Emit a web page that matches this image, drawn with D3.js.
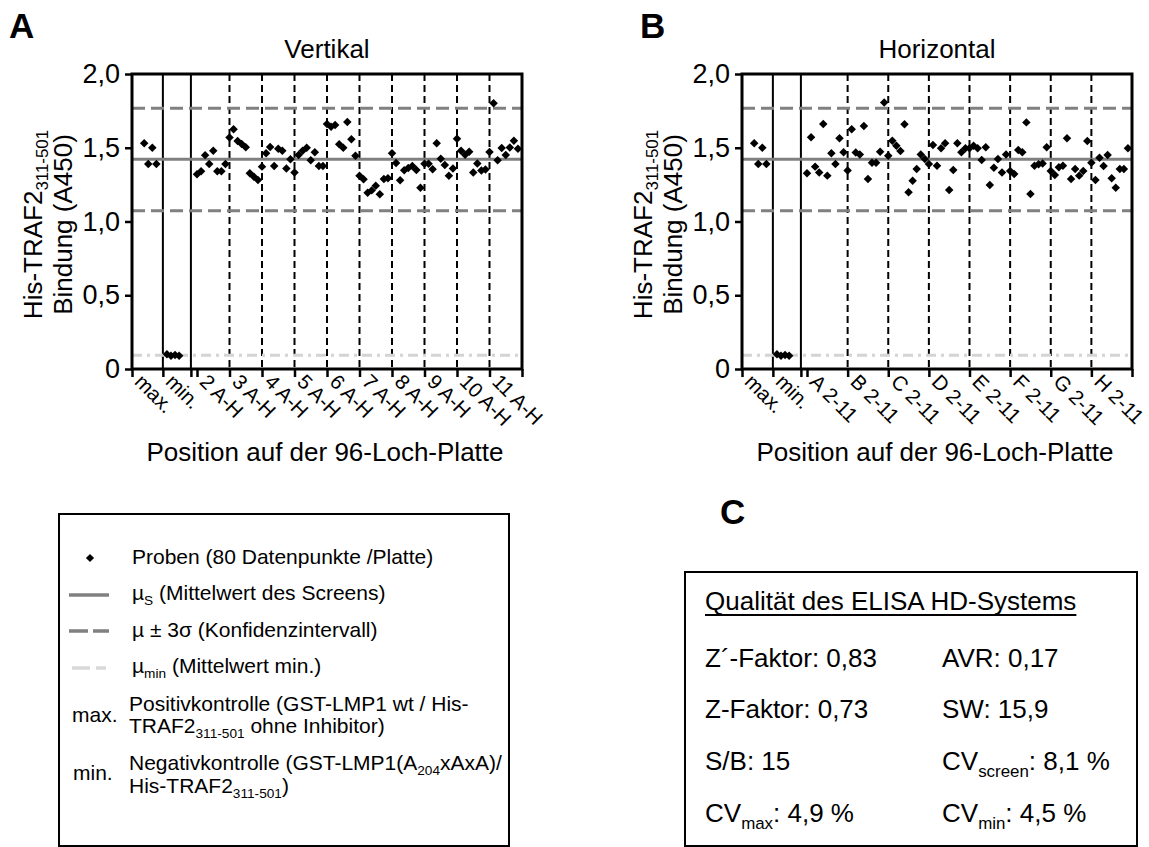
<!DOCTYPE html>
<html>
<head>
<meta charset="utf-8">
<script src="https://cdn.jsdelivr.net/npm/d3@7"></script>
<style>
  body { margin: 0; background: #fff; }
  svg { display: block; }
</style>
</head>
<body>
<svg id="fig" width="1149" height="847"></svg>
<script>
// ---- values ----
var yTicks = [0, 0.5, 1.0, 1.5, 2.0];
var yTickLabels = ["0", "0,5", "1,0", "1,5", "2,0"];

// reference lines (A450)
var muScreen = 1.422;
var muUpper = 1.767;   // mu + 3 sigma
var muLower = 1.073;   // mu - 3 sigma
var muMin = 0.093;

// controls, positions on the 0..96 well axis
var ctrlSeparators = [7.6, 14.5];
var maxSlots = [3, 4, 5, 6];
var maxValues = [1.53, 1.39, 1.50, 1.39];
var minSlots = [8.6, 9.6, 10.6, 11.6];
var minValues = [0.100, 0.090, 0.095, 0.090];
var sampleStart = 16;

// A: vertical read-out (columns 2..11, wells A..H)
var vertLabels = ["max.", "min.", "2 A-H", "3 A-H", "4 A-H", "5 A-H", "6 A-H",
                  "7 A-H", "8 A-H", "9 A-H", "10 A-H", "11 A-H"];
var vertLabelSlots = [0, 7.6, 16, 24, 32, 40, 48, 56, 64, 72, 80, 88];
var vertValues = [
  1.32, 1.34, 1.45, 1.39, 1.48, 1.34, 1.34, 1.39,
  1.57, 1.625, 1.546, 1.525, 1.503, 1.327, 1.304, 1.281,
  1.372, 1.462, 1.505, 1.376, 1.493, 1.48, 1.36, 1.422,
  1.332, 1.451, 1.479, 1.50, 1.415, 1.469, 1.376, 1.376,
  1.661, 1.643, 1.654, 1.523, 1.50, 1.674, 1.558, 1.446,
  1.31, 1.286, 1.195, 1.211, 1.243, 1.185, 1.288, 1.293,
  1.462, 1.397, 1.279, 1.347, 1.363, 1.377, 1.349, 1.229,
  1.392, 1.392, 1.355, 1.53, 1.425, 1.383, 1.31, 1.36,
  1.561, 1.479, 1.453, 1.473, 1.332, 1.394, 1.345, 1.352,
  1.471, 1.801, 1.415, 1.498, 1.451, 1.501, 1.547, 1.494
];

// B: horizontal read-out (rows A..H, columns 2..11)
var horLabels = ["max.", "min.", "A 2-11", "B 2-11", "C 2-11", "D 2-11",
                 "E 2-11", "F 2-11", "G 2-11", "H 2-11"];
var horLabelSlots = [0, 7.6, 16, 26, 36, 46, 56, 66, 76, 86];
var horValues = [
  1.327, 1.571, 1.372, 1.333, 1.661, 1.311, 1.462, 1.39, 1.564, 1.469,
  1.345, 1.625, 1.467, 1.455, 1.647, 1.288, 1.399, 1.399, 1.473, 1.806,
  1.446, 1.548, 1.514, 1.478, 1.659, 1.198, 1.277, 1.356, 1.455, 1.424,
  1.39, 1.519, 1.378, 1.496, 1.53, 1.214, 1.349, 1.53, 1.469, 1.496,
  1.496, 1.514, 1.496, 1.417, 1.503, 1.247, 1.365, 1.424, 1.333, 1.455,
  1.342, 1.322, 1.485, 1.469, 1.672, 1.186, 1.378, 1.388, 1.394, 1.503,
  1.342, 1.315, 1.367, 1.378, 1.564, 1.288, 1.356, 1.311, 1.342, 1.546,
  1.399, 1.281, 1.433, 1.376, 1.451, 1.293, 1.229, 1.356, 1.356, 1.496
];

// quality parameters, panel C
var qualityTitle = "Qualität des ELISA HD-Systems";
var qualityLeft = [
  [["Z´-Faktor: 0,83"]],
  [["Z-Faktor: 0,73"]],
  [["S/B: 15"]],
  [["CV"], ["max", "sub"], [": 4,9 %"]]
];
var qualityRight = [
  [["AVR: 0,17"]],
  [["SW: 15,9"]],
  [["CV"], ["screen", "sub"], [": 8,1 %"]],
  [["CV"], ["min", "sub"], [": 4,5 %"]]
];

// ---- drawing ----
var FONT = '"Liberation Sans", Arial, Helvetica, sans-serif';
var plotTop = 74, plotBottom = 369;
var svg = d3.select("#fig");
svg.append("rect").attr("width", 1149).attr("height", 847).attr("fill", "#fff");

// text with subscripts: parts = [[string, "sub"?], ...]
function rich(sel, parts, fs, k) {
  k = k || 0.28;
  var shift = 0;
  parts.forEach(function(p) {
    var t = sel.append("tspan").text(p[0]);
    if (p[1] == "sub") {
      t.attr("font-size", fs * 0.65).attr("dy", fs * k);
      shift = fs * k;
    } else if (shift) {
      t.attr("dy", -shift);
      shift = 0;
    }
  });
  return sel;
}

function drawPanel(p) {
  var g = svg.append("g");
  var x = d3.scaleLinear().domain([0, 96]).range([p.left, p.right]);
  var y = d3.scaleLinear().domain([0, 2]).range([plotBottom, plotTop]);

  // group separators
  g.selectAll("line.ctrl").data(ctrlSeparators).enter().append("line")
    .attr("x1", function(d) { return x(d); })
    .attr("x2", function(d) { return x(d); })
    .attr("y1", plotTop).attr("y2", plotBottom)
    .attr("stroke", "#000").attr("stroke-width", 2);
  g.selectAll("line.grp").data(p.labelSlots.slice(3)).enter().append("line")
    .attr("x1", function(d) { return x(d); })
    .attr("x2", function(d) { return x(d); })
    .attr("y1", plotTop).attr("y2", plotBottom)
    .attr("stroke", "#000").attr("stroke-width", 2)
    .attr("stroke-dasharray", "7,4");

  // reference lines
  var refs = [
    { v: muUpper, c: "#808080", dash: "13,6" },
    { v: muLower, c: "#808080", dash: "13,6" },
    { v: muScreen, c: "#808080", dash: null },
    { v: muMin, c: "#d4d4d4", dash: "10,5,3,5" }
  ];
  g.selectAll("line.ref").data(refs).enter().append("line")
    .attr("x1", p.left).attr("x2", p.right)
    .attr("y1", function(d) { return y(d.v); })
    .attr("y2", function(d) { return y(d.v); })
    .attr("stroke", function(d) { return d.c; })
    .attr("stroke-width", 3)
    .attr("stroke-dasharray", function(d) { return d.dash; });

  // axes
  var yAxis = d3.axisLeft(y).tickValues(yTicks)
    .tickFormat(function(d, i) { return yTickLabels[i]; })
    .tickSize(7).tickSizeOuter(0).tickPadding(5);
  var gy = g.append("g").attr("transform", "translate(" + p.left + ",0)").call(yAxis);
  gy.select(".domain").remove();
  gy.selectAll(".tick line").attr("stroke", "#000").attr("stroke-width", 2.5);
  gy.selectAll(".tick text").attr("font-size", 27).attr("font-family", FONT).attr("fill", "#000");

  var tickSlots = [0].concat(ctrlSeparators, p.labelSlots.slice(2), [96]);
  var xAxis = d3.axisBottom(x).tickValues(tickSlots)
    .tickFormat(function() { return ""; }).tickSize(8).tickSizeOuter(0);
  var gx = g.append("g").attr("transform", "translate(0," + plotBottom + ")").call(xAxis);
  gx.select(".domain").remove();
  gx.selectAll(".tick line").attr("stroke", "#000").attr("stroke-width", 2.5);
  gx.selectAll(".tick text").remove();

  g.append("rect")
    .attr("x", p.left).attr("y", plotTop)
    .attr("width", p.right - p.left).attr("height", plotBottom - plotTop)
    .attr("fill", "none").attr("stroke", "#000").attr("stroke-width", 3);

  // category labels, rotated 45 degrees
  g.selectAll("text.cat").data(p.labels).enter().append("text")
    .attr("transform", function(d, i) {
      return "translate(" + (x(p.labelSlots[i]) + 1.5) + "," + (plotBottom + 14) + ") rotate(45)";
    })
    .attr("font-family", FONT).attr("font-size", 20.5).attr("fill", "#000")
    .text(function(d) { return d; });

  // data points (diamonds)
  var diamond = d3.symbol().type(d3.symbolSquare).size(36);
  var pts = [];
  maxSlots.forEach(function(s, i) { pts.push([s, maxValues[i]]); });
  minSlots.forEach(function(s, i) { pts.push([s, minValues[i]]); });
  p.values.forEach(function(v, i) { pts.push([sampleStart + i, v]); });
  g.selectAll("path.pt").data(pts).enter().append("path")
    .attr("d", diamond)
    .attr("transform", function(d) {
      return "translate(" + x(d[0]) + "," + y(d[1]) + ") rotate(45)";
    })
    .attr("fill", "#000");

  // titles
  g.append("text").attr("x", (p.left + p.right) / 2).attr("y", 58)
    .attr("text-anchor", "middle").attr("font-family", FONT).attr("font-size", 26)
    .text(p.title);
  g.append("text").attr("x", (p.left + p.right) / 2 - 2).attr("y", 461)
    .attr("text-anchor", "middle").attr("font-family", FONT).attr("font-size", 26)
    .text("Position auf der 96-Loch-Platte");

  var cy = (plotTop + plotBottom) / 2 + 3;
  var t1 = g.append("text")
    .attr("transform", "translate(" + (p.left - 90) + "," + cy + ") rotate(-90)")
    .attr("text-anchor", "middle").attr("font-family", FONT).attr("font-size", 26);
  rich(t1, [["His-TRAF2"], ["311-501", "sub"]], 26, 0.22);
  g.append("text")
    .attr("transform", "translate(" + (p.left - 60) + "," + cy + ") rotate(-90)")
    .attr("text-anchor", "middle").attr("font-family", FONT).attr("font-size", 26)
    .text("Bindung (A450)");

  g.append("text").attr("x", p.letterX).attr("y", 38)
    .attr("font-family", FONT).attr("font-size", 35).attr("font-weight", "bold")
    .text(p.letter);
}

drawPanel({ left: 132, right: 522, title: "Vertikal", letter: "A", letterX: 9,
            labels: vertLabels, labelSlots: vertLabelSlots, values: vertValues });
drawPanel({ left: 742, right: 1132, title: "Horizontal", letter: "B", letterX: 640,
            labels: horLabels, labelSlots: horLabelSlots, values: horValues });

// ---- legend box ----
var lg = svg.append("g");
var LF = 21;
lg.append("rect").attr("x", 59).attr("y", 514).attr("width", 450).attr("height", 332)
  .attr("fill", "none").attr("stroke", "#000").attr("stroke-width", 2);
lg.append("path").attr("d", d3.symbol().type(d3.symbolSquare).size(34))
  .attr("transform", "translate(90,558) rotate(45)").attr("fill", "#000");
lg.append("line").attr("x1", 69).attr("x2", 109).attr("y1", 595).attr("y2", 595)
  .attr("stroke", "#808080").attr("stroke-width", 3.5);
lg.append("line").attr("x1", 69).attr("x2", 109).attr("y1", 631).attr("y2", 631)
  .attr("stroke", "#808080").attr("stroke-width", 3.5).attr("stroke-dasharray", "19,5");
lg.append("line").attr("x1", 72).attr("x2", 106).attr("y1", 668).attr("y2", 668)
  .attr("stroke", "#d9d9d9").attr("stroke-width", 3.5).attr("stroke-dasharray", "18,6");

var legendRows = [
  { x: 132, y: 564, parts: [["Proben (80 Datenpunkte /Platte)"]] },
  { x: 132, y: 600, parts: [["µ"], ["S", "sub"], [" (Mittelwert des Screens)"]] },
  { x: 132, y: 637, parts: [["µ ± 3σ (Konfidenzintervall)"]] },
  { x: 132, y: 673, parts: [["µ"], ["min", "sub"], [" (Mittelwert min.)"]] },
  { x: 72, y: 722, parts: [["max."]] },
  { x: 129, y: 711, parts: [["Positivkontrolle (GST-LMP1 wt / His-"]] },
  { x: 129, y: 733, parts: [["TRAF2"], ["311-501", "sub"], [" ohne Inhibitor)"]] },
  { x: 73, y: 780, parts: [["min."]] },
  { x: 129, y: 770, parts: [["Negativkontrolle (GST-LMP1(A"], ["204", "sub"], ["xAxA)/"]] },
  { x: 129, y: 793, parts: [["His-TRAF2"], ["311-501", "sub"], [")"]] }
];
legendRows.forEach(function(r) {
  var t = lg.append("text").attr("x", r.x).attr("y", r.y)
    .attr("font-family", FONT).attr("font-size", LF).attr("fill", "#000");
  rich(t, r.parts, LF, 0.22);
});

// ---- panel C ----
var cg = svg.append("g");
var CF = 26;
cg.append("text").attr("x", 720).attr("y", 524)
  .attr("font-family", FONT).attr("font-size", 35).attr("font-weight", "bold").text("C");
cg.append("rect").attr("x", 685).attr("y", 572).attr("width", 452).attr("height", 274)
  .attr("fill", "none").attr("stroke", "#000").attr("stroke-width", 2);
var title = cg.append("text").attr("x", 705).attr("y", 610)
  .attr("font-family", FONT).attr("font-size", CF).text(qualityTitle);
var tw = title.node().getComputedTextLength();
cg.append("line").attr("x1", 705).attr("x2", 705 + tw).attr("y1", 615).attr("y2", 615)
  .attr("stroke", "#000").attr("stroke-width", 1.8);

var rowY = [667, 718, 770, 822];
qualityLeft.forEach(function(parts, i) {
  rich(cg.append("text").attr("x", 705).attr("y", rowY[i])
    .attr("font-family", FONT).attr("font-size", CF), parts, CF);
});
qualityRight.forEach(function(parts, i) {
  rich(cg.append("text").attr("x", 942).attr("y", rowY[i])
    .attr("font-family", FONT).attr("font-size", CF), parts, CF);
});
</script>
</body>
</html>
